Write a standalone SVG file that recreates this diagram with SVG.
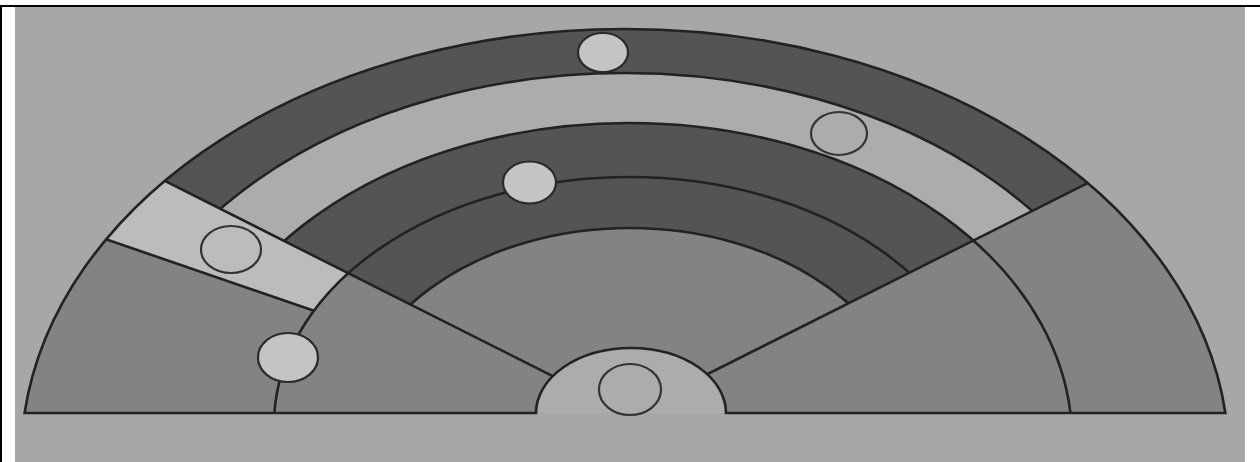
<svg xmlns="http://www.w3.org/2000/svg" width="1260" height="462" viewBox="0 0 1260 462">
<style>
.ln{fill:none;stroke:#222;stroke-width:2.6;stroke-linecap:round}
.dark{fill:#545454}
.med{fill:#838383}
.light{fill:#acacac}
.pale{fill:#bcbcbc;fill-rule:evenodd}
.dot{fill:#c4c4c4;stroke:#2a2a2a;stroke-width:2.2}
.ring{fill:none;stroke:#333;stroke-width:2.2}
</style>
<defs>
<clipPath id="cOuter"><path d="M24.6,413 A604,431 0 0 1 1225.4,413 Z"/></clipPath>
<clipPath id="cTop"><polygon points="625.4,413 0,97.8 0,0 1260,0 1260,96.5 630.4,413"/></clipPath>
<clipPath id="cLeft"><polygon points="0,97.8 625.4,413 612.2,413 0,202.9"/></clipPath>
<clipPath id="cR3"><polygon points="625.4,413 0,97.8 0,0 1260,0 1260,413"/></clipPath>
<clipPath id="cR35"><polygon points="0,0 1260,0 1260,96.5 630.4,413 0,413"/></clipPath>
</defs>
<rect width="1260" height="462" fill="#fff"/>
<rect x="15" y="7" width="1230" height="455" fill="#a7a7a7"/>
<line x1="0" y1="6" x2="1260" y2="6" stroke="#000" stroke-width="2"/>
<line x1="1" y1="6" x2="1" y2="462" stroke="#000" stroke-width="2"/>

<g id="base">
<path class="med" d="M24.6,413 A604,431 0 0 1 1225.4,413 Z"/>
</g>
<g id="upper-bands" clip-path="url(#cTop)">
<ellipse class="dark" cx="625" cy="460" rx="604" ry="431"/>
<ellipse class="light" cx="625" cy="440" rx="521" ry="367"/>
<ellipse class="dark" cx="629" cy="440" rx="443" ry="317"/>
<ellipse class="med" cx="630" cy="430" rx="280" ry="202"/>
</g>
<g id="left-sector" clip-path="url(#cLeft)">
<path class="pale" d="M21,460 A604,431 0 1 0 1229,460 A604,431 0 1 0 21,460 Z M274,425 A355,248 0 1 0 984,425 A355,248 0 1 0 274,425 Z"/>
</g>
<g id="connectors" clip-path="url(#cOuter)">
<g clip-path="url(#cTop)">
<ellipse class="ln" cx="625" cy="440" rx="521" ry="367"/>
<ellipse class="ln" cx="630" cy="430" rx="280" ry="202"/>
</g>
<g clip-path="url(#cR3)">
<ellipse class="ln" cx="629" cy="440" rx="443" ry="317"/>
</g>
<g clip-path="url(#cR35)">
<ellipse class="ln" cx="629" cy="425" rx="355" ry="248"/>
</g>
<line class="ln" x1="150" y1="173.4" x2="628" y2="414"/>
<line class="ln" x1="95" y1="235.5" x2="312.5" y2="310.2"/>
<line class="ln" x1="628" y1="414" x2="1110" y2="171.9"/>
</g>
<g id="center-hall">
<path class="light" d="M536,413 A95,65 0 0 1 726,413 Z"/>
</g>
<g id="outline">
<path class="ln" d="M24.6,413 A604,431 0 0 1 1225.4,413 L726,413 A95,65 0 0 0 536,413 Z"/>
</g>
<g id="circle-top"><ellipse class="dot" cx="603" cy="52.5" rx="25" ry="19.5"/></g>
<g id="circle-right"><ellipse class="ring" cx="839" cy="133.5" rx="28" ry="21.5"/></g>
<g id="circle-middle"><ellipse class="dot" cx="529.5" cy="182.5" rx="26.5" ry="21"/></g>
<g id="circle-left"><ellipse class="ring" cx="231" cy="249.5" rx="30" ry="23.5"/></g>
<g id="circle-lower-left"><ellipse class="dot" cx="288" cy="357.5" rx="30" ry="24.5"/></g>
<g id="circle-center"><ellipse class="ring" cx="630" cy="389.5" rx="31" ry="25.5"/></g>
</svg>
